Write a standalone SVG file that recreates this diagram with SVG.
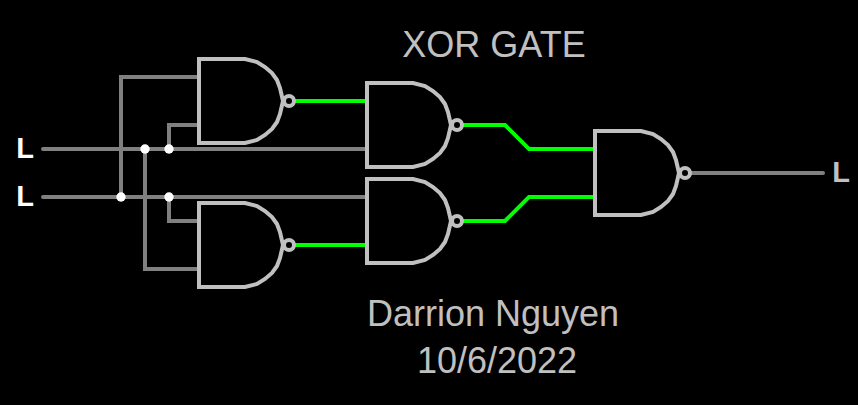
<svg xmlns="http://www.w3.org/2000/svg" xmlns:xlink="http://www.w3.org/1999/xlink" width="858" height="405" viewBox="0 0 858 405">
<style>
.w{fill:none;stroke-width:4;stroke-linecap:round;stroke-linejoin:miter}
.g{stroke:#808080}
.h{stroke:#00ff00}
.gate{fill:none;stroke:#c0c0c0;stroke-width:4}
.dot{fill:#fff}
text{font-family:"Liberation Sans",Arial,sans-serif;fill:#c0c0c0;text-anchor:middle;opacity:.999}
.t{font-size:36px}
.l{font-size:29px;font-weight:bold}
</style>
<defs>
<g id="nand">
<path d="M0 0H46L58 3L66 8L73 14L78 21L81 29L84 42L81 55L78 63L73 70L66 76L58 81L46 84H0Z"/>
<circle cx="90" cy="42" r="5"/>
</g>
</defs>
<rect width="858" height="405" fill="#000"/>
<g id="connectors">
<path class="w g" d="M43 149H367M43 197H367M121 197V77H199M145 149V269H199M169 149V125H199M169 197V221H199M691 173H823"/>
<path class="w h" d="M295 101H367M295 245H367M463 125H505L529 149H595M463 221H505L529 197H595"/>
<circle class="dot" cx="145" cy="149" r="4.7"/>
<circle class="dot" cx="169" cy="149" r="4.7"/>
<circle class="dot" cx="121" cy="197" r="4.7"/>
<circle class="dot" cx="169" cy="197" r="4.7"/>
</g>
<g id="gate1" class="gate"><use xlink:href="#nand" href="#nand" x="199" y="59"/></g>
<g id="gate2" class="gate"><use xlink:href="#nand" href="#nand" x="199" y="203"/></g>
<g id="gate3" class="gate"><use xlink:href="#nand" href="#nand" x="367" y="83"/></g>
<g id="gate4" class="gate"><use xlink:href="#nand" href="#nand" x="367" y="179"/></g>
<g id="gate5" class="gate"><use xlink:href="#nand" href="#nand" x="595" y="131"/></g>
<g id="input1"><text class="l" x="25" y="158" style="fill:#fff">L</text></g>
<g id="input2"><text class="l" x="25" y="206" style="fill:#fff">L</text></g>
<g id="output"><text class="l" x="841" y="182">L</text></g>
<g id="labels">
<text class="t" x="494" y="57">XOR GATE</text>
<text class="t" x="493" y="326">Darrion Nguyen</text>
<text class="t" x="497" y="373">10/6/2022</text>
</g>
</svg>
